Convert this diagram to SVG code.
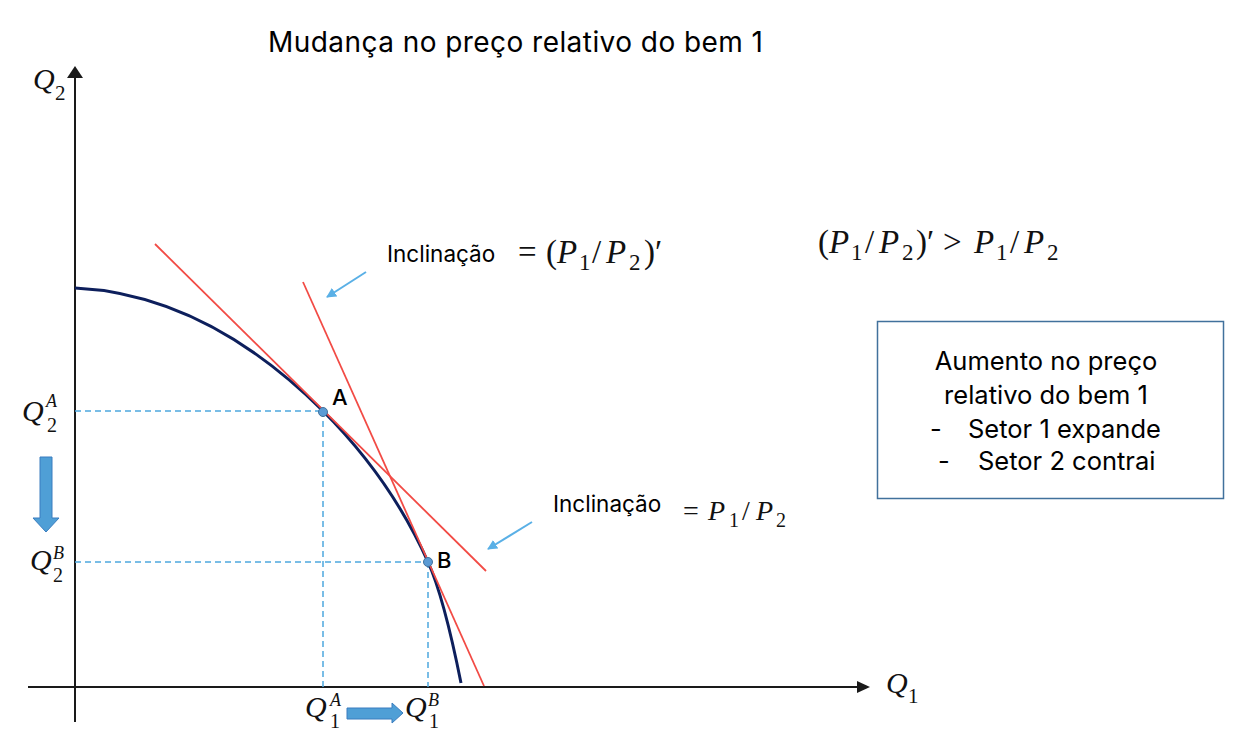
<svg xmlns="http://www.w3.org/2000/svg" width="1238" height="754" viewBox="0 0 1238 754">
<style>
.sans{font-family:Inter,"Liberation Sans",sans-serif;fill:#000}
.m{font-family:"Liberation Serif","DejaVu Serif",serif;fill:#111}
.i{font-style:italic}
.axis{stroke:#1a1a1a;stroke-width:2;fill:none}
.red{stroke:#f24b45;stroke-width:1.8;fill:none}
.dash{stroke:#4ea8de;stroke-width:1.5;stroke-dasharray:6 4;fill:none}
.ptr{stroke:#5ab0e6;stroke-width:2;fill:none}
.blk{fill:#4f9fd6;stroke:#3a7dbf;stroke-width:1}
.dot{fill:#5b9bd5;stroke:#41719c;stroke-width:1}
</style>
<defs>
<marker id="ah" markerWidth="10" markerHeight="10" refX="9" refY="5" orient="auto" markerUnits="userSpaceOnUse">
<path d="M0,0 L10,5 L0,10 Z" fill="#5ab0e6"/>
</marker>
</defs>
<rect width="1238" height="754" fill="#fff"/>

<text id="title" class="sans" x="268" y="52" font-size="28" textLength="495" lengthAdjust="spacing">Mudança no preço relativo do bem 1</text>

<g id="axes">
<line class="axis" x1="75" y1="722" x2="75" y2="76"/>
<path d="M75,66 L83,78 L67,78 Z" fill="#1a1a1a"/>
<line class="axis" x1="28" y1="687" x2="859" y2="687"/>
<path d="M870,687 L857,681 L857,693 Z" fill="#1a1a1a"/>
</g>

<g id="guides">
<line class="dash" x1="75" y1="411" x2="323" y2="411"/>
<line class="dash" x1="323" y1="411" x2="323" y2="687"/>
<line class="dash" x1="75" y1="562" x2="428" y2="562"/>
<line class="dash" x1="428" y1="562" x2="428" y2="687"/>
</g>

<g id="frontier">
<path d="M75,288 C158,292 240,328.5 323,411 C358,446 398,495 428,562 C442,593 453,643 461,683" fill="none" stroke="#0d1f5c" stroke-width="3"/>
</g>

<g id="tangents">
<line class="red" x1="155" y1="244" x2="486" y2="571"/>
<line class="red" x1="303" y1="282" x2="484" y2="686"/>
</g>

<g id="connectors">
<line class="ptr" x1="366" y1="272" x2="327" y2="297" marker-end="url(#ah)"/>
<line class="ptr" x1="532" y1="522" x2="488" y2="549" marker-end="url(#ah)"/>
<path class="blk" d="M40,457 L52,457 L52,518 L59,518 L46,532 L33,518 L40,518 Z"/>
<path class="blk" d="M347,708 L392,708 L392,703 L403,713 L392,723 L392,719 L347,719 Z"/>
</g>

<g id="pointA">
<circle class="dot" cx="323" cy="412" r="4.5"/>
<text class="sans" x="332" y="405" font-size="22" font-weight="500">A</text>
</g>
<g id="pointB">
<circle class="dot" cx="428" cy="562" r="4.5"/>
<text class="sans" x="437" y="568" font-size="22" font-weight="500">B</text>
</g>

<g id="axis-labels">
<text class="m" font-size="30"><tspan class="i" x="33" y="89">Q</tspan><tspan x="55" y="100" font-size="21">2</tspan></text>
<text class="m" font-size="30"><tspan class="i" x="886" y="693">Q</tspan><tspan x="908" y="703" font-size="21">1</tspan></text>
<text class="m" font-size="30"><tspan class="i" x="22" y="421">Q</tspan><tspan class="i" x="46" y="407" font-size="18">A</tspan><tspan x="47" y="432" font-size="20">2</tspan></text>
<text class="m" font-size="30"><tspan class="i" x="30" y="570">Q</tspan><tspan class="i" x="53" y="559" font-size="18">B</tspan><tspan x="53" y="582" font-size="20">2</tspan></text>
<text class="m" font-size="30"><tspan class="i" x="305" y="717">Q</tspan><tspan class="i" x="330" y="706" font-size="18">A</tspan><tspan x="330" y="728" font-size="20">1</tspan></text>
<text class="m" font-size="30"><tspan class="i" x="405" y="717">Q</tspan><tspan class="i" x="428" y="706" font-size="18">B</tspan><tspan x="429" y="728" font-size="20">1</tspan></text>
</g>

<g id="slope1">
<text class="sans" x="387" y="262" font-size="22.5">Inclinação</text>
<text class="m" font-size="33"><tspan x="518" y="263">=</tspan><tspan x="546" y="263">(</tspan><tspan class="i" x="557" y="263">P</tspan><tspan x="579" y="270" font-size="23">1</tspan><tspan x="592" y="263">/</tspan><tspan class="i" x="606" y="263">P</tspan><tspan x="629" y="270" font-size="23">2</tspan><tspan x="644" y="263">)</tspan><tspan x="655" y="263">′</tspan></text>
</g>

<g id="slope2">
<text class="sans" x="553" y="512" font-size="22.5">Inclinação</text>
<text class="m" font-size="28"><tspan x="683" y="520">=</tspan><tspan class="i" x="708" y="520">P</tspan><tspan x="729" y="527" font-size="20">1</tspan><tspan x="742" y="520">/</tspan><tspan class="i" x="756" y="520">P</tspan><tspan x="776" y="527" font-size="20">2</tspan></text>
</g>

<g id="inequality">
<text class="m" font-size="33"><tspan x="818" y="253">(</tspan><tspan class="i" x="829" y="253">P</tspan><tspan x="851" y="260" font-size="23">1</tspan><tspan x="865" y="253">/</tspan><tspan class="i" x="879" y="253">P</tspan><tspan x="902" y="260" font-size="23">2</tspan><tspan x="916" y="253">)</tspan><tspan x="927" y="253">′</tspan><tspan x="943" y="253">&gt;</tspan><tspan class="i" x="974" y="253">P</tspan><tspan x="996" y="260" font-size="23">1</tspan><tspan x="1010" y="253">/</tspan><tspan class="i" x="1024" y="253">P</tspan><tspan x="1047" y="260" font-size="23">2</tspan></text>
</g>

<g id="infobox">
<rect x="877.5" y="321.5" width="346" height="177" fill="#fff" stroke="#41719c" stroke-width="1.5"/>
<text class="sans" x="1046" y="370" font-size="25.5" text-anchor="middle">Aumento no preço</text>
<text class="sans" x="1046" y="404" font-size="25.5" text-anchor="middle">relativo do bem 1</text>
<text class="sans" x="930" y="438" font-size="25.5">-</text>
<text class="sans" x="968" y="438" font-size="25.5">Setor 1 expande</text>
<text class="sans" x="938" y="470" font-size="25.5">-</text>
<text class="sans" x="978" y="470" font-size="25.5">Setor 2 contrai</text>
</g>
</svg>
